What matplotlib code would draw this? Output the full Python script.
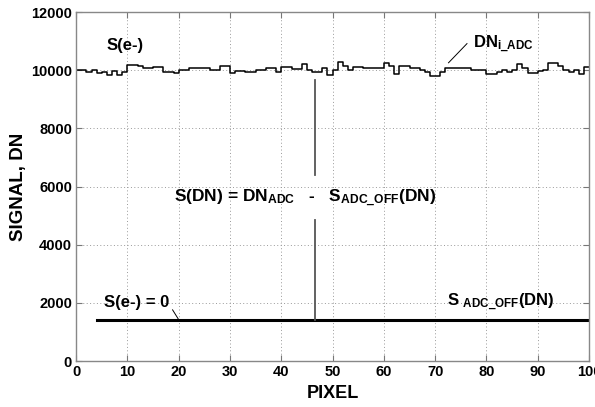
import matplotlib
matplotlib.use("Agg")
import matplotlib.pyplot as plt
import numpy as np

plt.rcParams['font.family'] = ['Liberation Sans', 'DejaVu Sans']
plt.rcParams['font.weight'] = 'bold'
plt.rcParams['mathtext.fontset'] = 'custom'
plt.rcParams['mathtext.rm'] = 'Liberation Sans:bold'
plt.rcParams['mathtext.it'] = 'Liberation Sans:bold'
plt.rcParams['mathtext.bf'] = 'Liberation Sans:bold'

# Signal per pixel (DN), pixels 0..99
pixels = list(range(0, 101))
dn_adc = [10000, 10000, 9955, 10000, 9910, 9955, 9840, 9980, 9840, 9930,
          10185, 10185, 10140, 10090, 10090, 10115, 10115, 9955, 9955, 9910,
          10000, 10000, 10070, 10070, 10070, 10070, 10000, 10025, 10160, 10160,
          9910, 9980, 9980, 9930, 9930, 10025, 10025, 10070, 10070, 9930,
          10115, 10115, 10045, 10045, 10205, 10000, 9930, 9930, 10090, 9840,
          10000, 10275, 10140, 10000, 10115, 10115, 10070, 10070, 10090, 10090,
          10250, 10160, 9860, 10160, 10160, 10090, 10090, 10000, 9955, 9815,
          9815, 9955, 10090, 10090, 10090, 10070, 10070, 10025, 10025, 10000,
          9860, 9860, 9955, 10000, 9930, 10025, 10205, 10090, 9910, 9910,
          9980, 10000, 10250, 10250, 10140, 10025, 9930, 10000, 9860, 10115]
offset_x = [4, 100]
offset_y = [1400, 1400]
signal_x = 46.5
signal_top = 9680
text_gap = [6400, 4850]

xticks = list(range(0, 101, 10))
yticks = list(range(0, 12001, 2000))

fig = plt.figure(figsize=(5.95, 4.07), dpi=100)
ax = fig.add_axes([0.128, 0.113, 0.862, 0.857])

ax.step(pixels, dn_adc + [dn_adc[-1]], where='post', color='black', lw=1.1)
ax.plot(offset_x, offset_y, color='black', lw=2.2)
ax.plot([signal_x, signal_x], [offset_y[0], text_gap[1]], color='#555555', lw=1.3)
ax.plot([signal_x, signal_x], [text_gap[0], signal_top], color='#555555', lw=1.3)

ax.set_xlim(0, 100)
ax.set_ylim(0, 12000)
ax.set_xticks(xticks)
ax.set_yticks(yticks)
ax.grid(True, linestyle=(0, (1, 2.5)), color='#999999', lw=0.7)
ax.tick_params(direction='in', length=4, color='#777777', labelsize=10.5,
               top=True, right=True, pad=3)
for lab in ax.get_xticklabels() + ax.get_yticklabels():
    lab.set_fontweight('bold')
for s in ax.spines.values():
    s.set_color('#888888')
    s.set_linewidth(1.0)

ax.set_xlabel('PIXEL', fontsize=13, fontweight='bold', labelpad=4)
ax.set_ylabel('SIGNAL, DN', fontsize=13.5, fontweight='bold', labelpad=3)

fs = 12
ax.text(6.0, 10870, 'S(e-)', fontsize=fs, fontweight='bold', va='center', ha='left')
ax.text(77.3, 10900, r'DN$_{\mathrm{i\_ADC}}$', fontsize=fs, fontweight='bold',
        va='center', ha='left')
ax.plot([76.2, 72.6], [10920, 10260], color='black', lw=0.7)
ax.text(44.6, 5600, r'S(DN) = DN$_{\mathrm{ADC}}$   -   S$_{\mathrm{ADC\_OFF}}$(DN)',
        fontsize=12.5, fontweight='bold', va='center', ha='center')
ax.text(5.4, 2020, 'S(e-) = 0', fontsize=fs, fontweight='bold', va='center', ha='left')
ax.plot([18.8, 20.0], [1760, 1420], color='black', lw=0.7)
ax.text(72.3, 2020, r'S $_{\mathrm{ADC\_OFF}}$(DN)', fontsize=fs, fontweight='bold',
        va='center', ha='left')

fig.savefig('out.png', dpi=100)
